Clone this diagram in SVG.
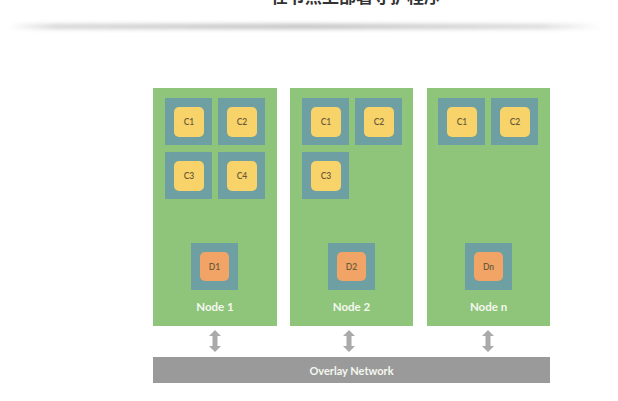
<svg xmlns="http://www.w3.org/2000/svg" width="618" height="401" viewBox="0 0 618 401">
<defs>
<linearGradient id="sh" x1="0" x2="1" y1="0" y2="0">
<stop offset="0" stop-color="#c8c8c8" stop-opacity="0"/>
<stop offset="0.08" stop-color="#c8c8c8" stop-opacity="0.8"/>
<stop offset="0.5" stop-color="#bdbdbd" stop-opacity="1"/>
<stop offset="0.9" stop-color="#c8c8c8" stop-opacity="0.7"/>
<stop offset="1" stop-color="#c8c8c8" stop-opacity="0"/>
</linearGradient>
<filter id="blur" x="-5%" y="-200%" width="110%" height="500%"><feGaussianBlur stdDeviation="2"/></filter>
<polygon id="dbl" points="0,-11 6,-5 2.5,-5 2.5,5 6,5 0,11 -6,5 -2.5,5 -2.5,-5 -6,-5"/>
</defs>
<style>
.node{fill:#8fc47b}
.box{fill:#6e9fa3}
.c{fill:#f8d36a}
.d{fill:#f1a466}
.lbl{font-family:"Lato","Open Sans",sans-serif;font-size:8.5px;font-weight:600;fill:#6a5a3a;text-anchor:middle;dominant-baseline:central}
.nlbl{font-family:"Lato","Open Sans",sans-serif;font-size:11.5px;font-weight:bold;fill:#f4f8ef;text-anchor:middle;dominant-baseline:central}
.arr{fill:#aaaaaa}
</style>
<rect width="618" height="401" fill="#ffffff"/>
<text x="356" y="3" font-family="'Noto Sans CJK SC',sans-serif" font-size="17" font-weight="bold" fill="#333333" text-anchor="middle">在节点上部署守护程序</text>
<rect x="8" y="24" width="592" height="5" rx="2.5" fill="url(#sh)" filter="url(#blur)"/>

<g id="node1">
<rect class="node" x="153" y="88" width="124" height="238"/>
<rect class="box" x="165" y="98" width="47" height="47"/><rect class="c" x="174" y="107" width="30" height="30" rx="5"/><text class="lbl" x="189" y="122">C1</text>
<rect class="box" x="218" y="98" width="47" height="47"/><rect class="c" x="227" y="107" width="30" height="30" rx="5"/><text class="lbl" x="242" y="122">C2</text>
<rect class="box" x="165" y="152" width="47" height="47"/><rect class="c" x="174" y="161" width="30" height="30" rx="5"/><text class="lbl" x="189" y="176">C3</text>
<rect class="box" x="218" y="152" width="47" height="47"/><rect class="c" x="227" y="161" width="30" height="30" rx="5"/><text class="lbl" x="242" y="176">C4</text>
<rect class="box" x="191" y="243" width="47" height="47"/><rect class="d" x="200" y="252" width="29" height="29" rx="5"/><text class="lbl" x="214.5" y="266.5">D1</text>
<text class="nlbl" x="215" y="306">Node 1</text>
</g>

<g id="node2">
<rect class="node" x="290" y="88" width="123" height="238"/>
<rect class="box" x="302" y="98" width="47" height="47"/><rect class="c" x="311" y="107" width="30" height="30" rx="5"/><text class="lbl" x="326" y="122">C1</text>
<rect class="box" x="355" y="98" width="47" height="47"/><rect class="c" x="364" y="107" width="30" height="30" rx="5"/><text class="lbl" x="379" y="122">C2</text>
<rect class="box" x="302" y="152" width="47" height="47"/><rect class="c" x="311" y="161" width="30" height="30" rx="5"/><text class="lbl" x="326" y="176">C3</text>
<rect class="box" x="328" y="243" width="47" height="47"/><rect class="d" x="337" y="252" width="29" height="29" rx="5"/><text class="lbl" x="351.5" y="266.5">D2</text>
<text class="nlbl" x="351.5" y="306">Node 2</text>
</g>

<g id="noden">
<rect class="node" x="427" y="88" width="123" height="238"/>
<rect class="box" x="438" y="98" width="47" height="47"/><rect class="c" x="447" y="107" width="30" height="30" rx="5"/><text class="lbl" x="462" y="122">C1</text>
<rect class="box" x="491" y="98" width="47" height="47"/><rect class="c" x="500" y="107" width="30" height="30" rx="5"/><text class="lbl" x="515" y="122">C2</text>
<rect class="box" x="465" y="243" width="47" height="47"/><rect class="d" x="474" y="252" width="29" height="29" rx="5"/><text class="lbl" x="488.5" y="266.5">Dn</text>
<text class="nlbl" x="488.5" y="306">Node n</text>
</g>

<g id="overlay">
<rect x="153" y="357" width="397" height="26" fill="#9a9a9a"/>
<text class="nlbl" x="351.5" y="370" style="font-size:11px" fill="#ffffff">Overlay Network</text>
</g>

<g id="connectors">
<use href="#dbl" class="arr" x="215" y="341"/>
<use href="#dbl" class="arr" x="349" y="341"/>
<use href="#dbl" class="arr" x="488" y="341"/>
</g>
</svg>
